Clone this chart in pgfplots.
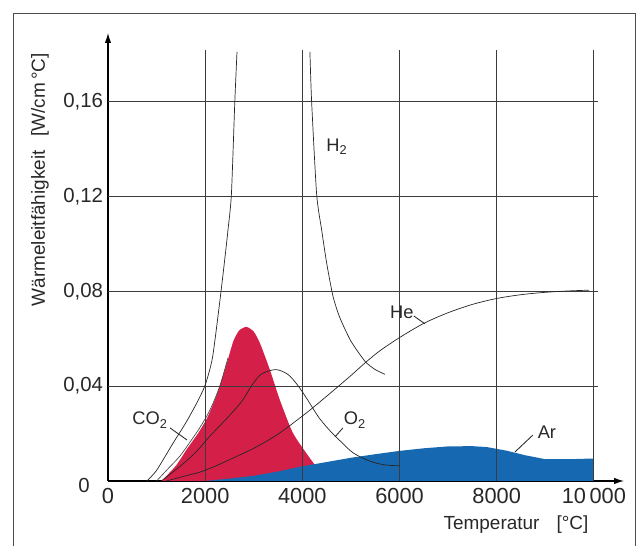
\documentclass[border=0pt]{standalone}
\usepackage{fontspec}
\setmainfont{Liberation Sans}
\usepackage{pgfplots}
\pgfplotsset{compat=1.18}
\usetikzlibrary{arrows.meta}

\definecolor{co2red}{RGB}{212,32,72}
\definecolor{arblue}{RGB}{22,104,176}
\definecolor{gridc}{RGB}{60,60,60}
\definecolor{txt}{RGB}{40,40,40}

\begin{document}
\begin{tikzpicture}
\useasboundingbox (-2.7,-1.625) rectangle (13.225,12.025);
% frame
\draw[gray!60!black, line width=0.7pt] (-2.375,-2) -- (-2.375,11.7) -- (13.175,11.7) -- (13.175,-2);

\begin{axis}[
  at={(0,0)}, anchor=south west,
  scale only axis, width=12.9cm, height=11.2cm,
  xmin=0, xmax=10620, ymin=0, ymax=0.189,
  axis lines=left,
  axis line style={line width=0.8pt, black, -{Latex[length=7pt,width=4.5pt]}},
  major tick length=0pt,
  scaled ticks=false,
  xtick={0,2000,4000,6000,8000,10000},
  xticklabels={0,2000,4000,6000,8000,10\,000},
  ytick={0.04,0.08,0.12,0.16},
  yticklabels={{0,04},{0,08},{0,12},{0,16}},
  xticklabel style={font=\fontsize{15.5}{17}\selectfont, text=txt, yshift=-2pt},
  yticklabel style={font=\fontsize{14.5}{16}\selectfont, text=txt},
  clip=false,
]
% CO2 (red area)
\addplot[draw=none, fill=co2red, smooth, tension=0.4] coordinates {
  (1100,0) (1400,0.0065) (1625,0.0135) (1850,0.020) (2050,0.027)
  (2250,0.037) (2450,0.050) (2580,0.059) (2700,0.0635) (2850,0.065)
  (3000,0.0630) (3130,0.058) (3330,0.047) (3540,0.034) (3800,0.0205)
  (4090,0.0115) (4300,0.0055) (4450,0)
} -- cycle;
% Ar (blue area)
\addplot[draw=none, fill=arblue] coordinates {
  (2000,0) (2500,0.0010) (3000,0.0022) (3500,0.0040) (4000,0.0062)
  (4500,0.0080) (5000,0.0098) (5500,0.0113) (6000,0.0127) (6500,0.0138)
  (7000,0.0146) (7500,0.0147) (7800,0.0143) (8200,0.0128) (8600,0.0108)
  (9000,0.0092) (9500,0.0092) (10000,0.0095) (10000,0)
} -- cycle;

% grid
\foreach \gx in {2000,4000,6000,8000,10000} {
  \edef\tmp{\noexpand\draw[gridc, line width=0.6pt] (axis cs:\gx,0) -- (axis cs:\gx,0.182);}
  \tmp
}
\foreach \gy in {0.04,0.08,0.12,0.16} {
  \edef\tmp{\noexpand\draw[gridc, line width=0.6pt] (axis cs:0,\gy) -- (axis cs:10080,\gy);}
  \tmp
}

% CO2 outline
\addplot[black!75, line width=0.45pt, smooth] coordinates {
  (1000,0) (1250,0.0055) (1480,0.0105) (1690,0.0165) (1890,0.0225)
  (2100,0.030) (2300,0.040) (2470,0.052)
};
% O2
\addplot[black!85, line width=0.5pt, smooth, tension=0.5] coordinates {
  (1100,0) (1500,0.0065) (1800,0.012) (2100,0.019) (2450,0.0265)
  (2750,0.0335) (2950,0.040) (3150,0.045) (3450,0.047) (3700,0.045)
  (3900,0.0405) (4100,0.0345) (4350,0.0265) (4600,0.0205) (4800,0.0165)
  (5050,0.0118) (5400,0.0083) (5700,0.0068) (6000,0.0064)
};
% He
\addplot[black!85, line width=0.5pt, smooth, tension=0.5] coordinates {
  (1200,0) (1600,0.0022) (1900,0.0038) (2200,0.0062) (2500,0.009)
  (3000,0.0138) (3500,0.0198) (4100,0.0290) (4600,0.0375) (5000,0.0445)
  (5300,0.0500) (5600,0.0550) (6000,0.0605) (6500,0.0665) (7000,0.0710)
  (7500,0.0745) (8000,0.0770) (8500,0.0786) (9000,0.0796) (9500,0.0802)
  (9900,0.0805)
};
% H2 left branch
\addplot[black!85, line width=0.5pt, smooth, tension=0.4] coordinates {
  (800,0) (1000,0.0045) (1340,0.016) (1600,0.0245) (1830,0.033)
  (2000,0.0405) (2150,0.052) (2305,0.0764) (2400,0.093) (2470,0.106)
  (2540,0.121) (2610,0.160) (2655,0.181)
};
% H2 right branch
\addplot[black!85, line width=0.5pt, smooth, tension=0.4] coordinates {
  (4156,0.181) (4191,0.160) (4294,0.121) (4397,0.106) (4500,0.092)
  (4630,0.078) (4770,0.069) (5000,0.059) (5290,0.0505) (5500,0.047)
  (5700,0.045)
};

% labels of the curves
\begin{scope}[every node/.style={font=\fontsize{13}{15}\selectfont, text=txt}]
\node at (axis cs:4712,0.141) {H\textsubscript{2}};
\node at (axis cs:6049,0.0713) {He};
\node at (axis cs:864,0.0257) {CO\textsubscript{2}};
\node at (axis cs:5082,0.0257) {O\textsubscript{2}};
\node at (axis cs:9033,0.0207) {Ar};
\end{scope}
\draw[black!85, line width=0.6pt] (axis cs:6296,0.0696) -- (axis cs:6523,0.0663);
\draw[black!85, line width=0.6pt] (axis cs:1276,0.0224) -- (axis cs:1626,0.0173);
\draw[black!85, line width=0.6pt] (axis cs:4835,0.0224) -- (axis cs:4671,0.0186);
\draw[black!85, line width=0.6pt] (axis cs:8745,0.0194) -- (axis cs:8374,0.0122);
\end{axis}

% y "0" label, axis titles
\node[font=\fontsize{14.5}{16}\selectfont, text=txt] at (-0.6,-0.1) {0};
\node[rotate=90, font=\fontsize{13.5}{15}\selectfont, text=txt] at (-1.7,7.53)
  {Wärmeleitfähigkeit\hspace{0.7em}[W/cm\,°C]};
\node[font=\fontsize{13.5}{15}\selectfont, text=txt] at (10.2,-1.1)
  {Temperatur\hspace{0.9em}[°C]};
\end{tikzpicture}
\end{document}
